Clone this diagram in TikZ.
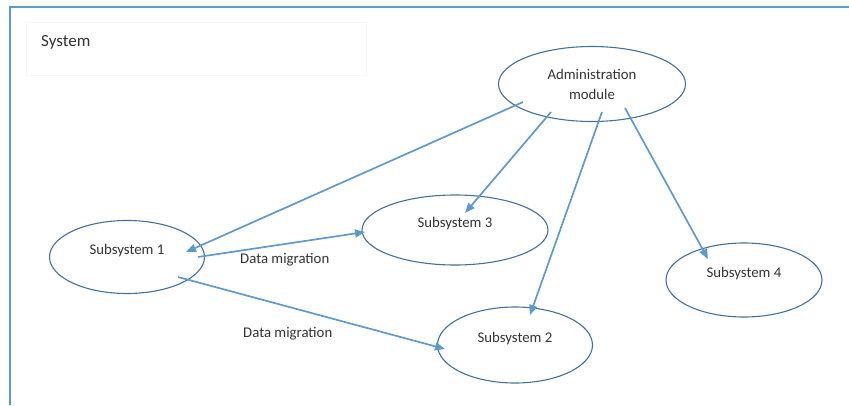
\documentclass[tikz,border=0pt]{standalone}
\usepackage{fontspec}
\setmainfont{Carlito}
\usetikzlibrary{arrows.meta,shapes.geometric}
\definecolor{frameblue}{HTML}{5B9BD5}
\definecolor{ovalline}{HTML}{41719C}
\definecolor{linkblue}{HTML}{5B9BD5}
\definecolor{textgray}{HTML}{333333}
\definecolor{faintbox}{HTML}{F6F6F6}
\tikzset{
  module/.style={ellipse, draw=ovalline, line width=1.1pt, text=textgray,
    font=\fontsize{14.8}{20}\selectfont, align=center, inner sep=0pt},
  % single-line labels sit a little above the middle of their oval
  raised/.style={text height=10pt, text depth=15pt},
  link/.style={draw=linkblue, line width=1.7pt,
    -{Triangle[length=10pt,width=8pt]}},
  caption/.style={text=textgray, font=\fontsize{14.8}{17}\selectfont, inner sep=0pt}
}
\begin{document}
\begin{tikzpicture}[x=1pt, y=-1pt]
  \useasboundingbox (0,0) rectangle (849,405);
  % outer system frame (top and left edges)
  \draw[frameblue, line width=1.8pt] (849,7) -- (10,7) -- (10,405);
  % title area
  \draw[faintbox, line width=0.6pt] (26,22) rectangle (366,75);
  \node[caption, anchor=west, font=\fontsize{17}{20}\selectfont] (sys) at (41,42) {System};

  % modules
  \node[module, minimum width=187pt, minimum height=75pt] (adm) at (592,84) {Administration\\module};
  \node[module, raised, minimum width=155pt, minimum height=73pt] (s1) at (127,257) {Subsystem 1};
  \node[module, raised, minimum width=186pt, minimum height=70pt] (s3) at (455,230) {Subsystem 3};
  \node[module, raised, minimum width=155pt, minimum height=76pt] (s2) at (515,345) {Subsystem 2};
  \node[module, raised, minimum width=156pt, minimum height=74pt] (s4) at (744,280) {Subsystem 4};

  % control links from the administration module
  \draw[link] ([shift={(-69,18)}]adm.center) -- ([shift={(59,-5)}]s1.center);
  \draw[link] ([shift={(-41,28)}]adm.center) -- ([shift={(10,-17)}]s3.center);
  \draw[link] ([shift={(10,28)}]adm.center) -- ([shift={(15,-30)}]s2.center);
  \draw[link] ([shift={(33,24)}]adm.center) -- ([shift={(-36,-21)}]s4.center);

  % data migration links
  \draw[link] ([shift={(71,0)}]s1.center) -- ([shift={(-90,2)}]s3.center);
  \draw[link] ([shift={(51,20)}]s1.center) -- ([shift={(-70,4)}]s2.center);
  \node[caption, anchor=west] (dm1) at (240,260) {Data migration};
  \node[caption, anchor=west] (dm2) at (243,334) {Data migration};
\end{tikzpicture}
\end{document}
